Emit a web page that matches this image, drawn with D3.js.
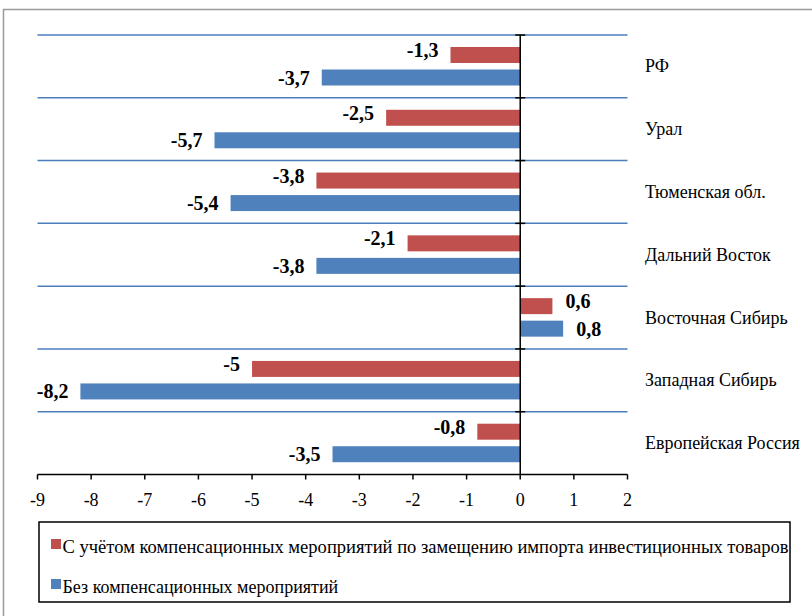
<!DOCTYPE html>
<html lang="ru">
  <head>
    <meta charset="UTF-8" />
    <title>Регионы: изменение показателя</title>
    <script src="https://d3js.org/d3.v7.min.js"></script>
    <style>
      body { margin: 0; background: #fff; }
      svg text { font-family: "Liberation Serif"; fill: #000; }
      .val { font-weight: bold; font-size: 20px; }
      .tick-lbl { font-size: 18px; }
      .cat { font-size: 18px; }
      .leg { font-size: 18px; }
    </style>
  </head>
  <body>
    <svg width="812" height="616"></svg>
    <script>
      // данные
      const categories = [
        "РФ",
        "Урал",
        "Тюменская обл.",
        "Дальний Восток",
        "Восточная Сибирь",
        "Западная Сибирь",
        "Европейская Россия",
      ];
      const seriesNames = [
        "С учётом компенсационных мероприятий по замещению импорта инвестиционных товаров",
        "Без компенсационных мероприятий",
      ];
      const withComp = [-1.3, -2.5, -3.8, -2.1, 0.6, -5, -0.8];
      const noComp = [-3.7, -5.7, -5.4, -3.8, 0.8, -8.2, -3.5];
      const xTicks = [-9, -8, -7, -6, -5, -4, -3, -2, -1, 0, 1, 2];
      const colors = ["#C0504D", "#4F81BD"];

      const seriesValues = [withComp, noComp];

      const svg = d3.select("svg");

      // внешняя рамка
      svg.append("rect")
        .attr("x", 3.5).attr("y", 9.5)
        .attr("width", 830).attr("height", 630)
        .attr("fill", "none")
        .attr("stroke", "#9a9a9a")
        .attr("stroke-width", 1.5);

      const x = d3.scaleLinear().domain([-9, 2]).range([37.5, 627.5]);
      const y0 = d3.scaleBand().domain(categories).range([35, 474.5]);
      const y1 = d3.scaleBand().domain([0, 1]).range([12, 50.5]).paddingInner(0.29);

      // сетка
      const gridY = categories.map((c) => y0(c));
      svg.append("g").selectAll("line")
        .data(gridY)
        .join("line")
        .attr("x1", x(-9)).attr("x2", x(2))
        .attr("y1", (d) => d).attr("y2", (d) => d)
        .attr("stroke", "#4A7EBB")
        .attr("stroke-width", 1.5);

      // столбики
      const rows = [];
      categories.forEach((c, i) => {
        seriesValues.forEach((vals, s) => {
          rows.push({ cat: c, s: s, v: vals[i] });
        });
      });

      svg.append("g").selectAll("rect")
        .data(rows)
        .join("rect")
        .attr("x", (d) => x(Math.min(0, d.v)))
        .attr("y", (d) => y0(d.cat) + y1(d.s))
        .attr("width", (d) => Math.abs(x(d.v) - x(0)))
        .attr("height", y1.bandwidth())
        .attr("fill", (d) => colors[d.s]);

      // подписи значений
      const fmt = (v) => String(v).replace(".", ",");
      svg.append("g").selectAll("text")
        .data(rows)
        .join("text")
        .attr("class", "val")
        .attr("x", (d) => (d.v < 0 ? x(d.v) - 12 : x(d.v) + 13))
        .attr("y", (d) => y0(d.cat) + y1(d.s) + y1.bandwidth() / 2 + (d.s === 0 ? 2 : 7))
        .attr("text-anchor", (d) => (d.v < 0 ? "end" : "start"))
        .text((d) => fmt(d.v));

      // ось X
      const axisY = 474.5;
      svg.append("line")
        .attr("x1", x(-9)).attr("x2", x(2))
        .attr("y1", axisY).attr("y2", axisY)
        .attr("stroke", "#000").attr("stroke-width", 1.5);
      svg.append("g").selectAll("line")
        .data(xTicks)
        .join("line")
        .attr("x1", (d) => x(d)).attr("x2", (d) => x(d))
        .attr("y1", axisY).attr("y2", axisY + 5)
        .attr("stroke", "#000").attr("stroke-width", 1.5);
      svg.append("g").selectAll("text")
        .data(xTicks)
        .join("text")
        .attr("class", "tick-lbl")
        .attr("x", (d) => x(d))
        .attr("y", 506)
        .attr("text-anchor", "middle")
        .text((d) => d);

      // вертикальная ось в нуле
      svg.append("line")
        .attr("x1", x(0)).attr("x2", x(0))
        .attr("y1", 35).attr("y2", axisY)
        .attr("stroke", "#000").attr("stroke-width", 1.5);
      svg.append("g").selectAll("line")
        .data(gridY)
        .join("line")
        .attr("x1", x(0) - 5).attr("x2", x(0) + 5)
        .attr("y1", (d) => d).attr("y2", (d) => d)
        .attr("stroke", "#000").attr("stroke-width", 1.5);

      // названия регионов
      svg.append("g").selectAll("text")
        .data(categories)
        .join("text")
        .attr("class", "cat")
        .attr("x", 645)
        .attr("y", (d) => y0(d) + y0.bandwidth() / 2 + 6)
        .text((d) => d);

      // легенда
      svg.append("rect")
        .attr("x", 39).attr("y", 522)
        .attr("width", 751).attr("height", 80)
        .attr("fill", "none")
        .attr("stroke", "#000").attr("stroke-width", 1.5);
      const legY = [544, 584];
      seriesNames.forEach((name, i) => {
        svg.append("rect")
          .attr("x", 51).attr("y", legY[i] - 5)
          .attr("width", 10).attr("height", 10)
          .attr("fill", colors[i]);
        const t = svg.append("text")
          .attr("class", "leg")
          .attr("x", 62.5)
          .attr("y", legY[i] + 8.5)
          .text(name);
        if (i === 0) t.attr("textLength", 726).attr("lengthAdjust", "spacingAndGlyphs");
      });
    </script>
  </body>
</html>
